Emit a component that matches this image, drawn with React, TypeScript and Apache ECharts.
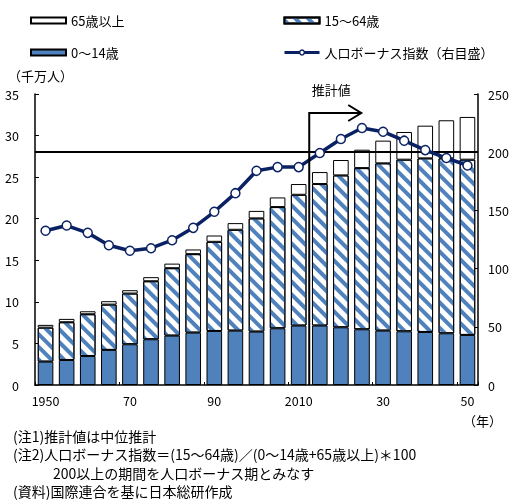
import React, { useEffect, useRef } from "react";
import * as echarts from "echarts";

const years = [1950, 1955, 1960, 1965, 1970, 1975, 1980, 1985, 1990, 1995, 2000, 2005, 2010, 2015, 2020, 2025, 2030, 2035, 2040, 2045, 2050];
const age0to14 = [2.81, 3.01, 3.49, 4.22, 4.9, 5.5, 5.94, 6.3, 6.5, 6.54, 6.42, 6.82, 7.15, 7.15, 6.94, 6.7, 6.54, 6.46, 6.38, 6.22, 6.02];
const age15to64 = [4.09, 4.54, 5.02, 5.45, 6.1, 6.98, 8.11, 9.44, 10.72, 12.13, 13.62, 14.58, 15.73, 17.02, 18.27, 19.39, 20.12, 20.64, 20.88, 21.04, 21.08];
const age65plus = [0.33, 0.4, 0.36, 0.41, 0.4, 0.49, 0.55, 0.56, 0.76, 0.8, 0.9, 1.16, 1.29, 1.44, 1.85, 2.21, 2.73, 3.33, 3.93, 4.58, 5.14];
const bonusIndex = [132.5, 137, 130.7, 120.1, 115.3, 117.5, 124.4, 135, 148.8, 164.8, 184, 187.2, 187.2, 199.3, 211.3, 220.8, 217.6, 209.9, 201.8, 195, 188.6];
const bonusThreshold = 200;
const leftTicks = { min: 0, max: 35, interval: 5 };
const rightTicks = { min: 0, max: 250, interval: 50 };
const fullYearLabels = ["1950", "2010"];
const estimateAfter = 2010;
const notes = [
  "(注1)推計値は中位推計",
  "(注2)人口ボーナス指数＝(15～64歳)／(0～14歳+65歳以上)＊100",
  "200以上の期間を人口ボーナス期とみなす",
  "(資料)国際連合を基に日本総研作成",
];

const FONT = "'Noto Sans CJK JP', 'Noto Sans', sans-serif";
const BLUE = "#4F81BD";
const NAVY = "#0A2163";

export default function App() {
  const ref = useRef<HTMLDivElement>(null);
  useEffect(() => {
    if (!ref.current) return;
    const chart = echarts.init(ref.current, null, { renderer: "svg" });
    const cats = years.map(String);
    const barBase = {
      type: "bar" as const,
      stack: "pop",
      barWidth: "74%",
      yAxisIndex: 0,
    };
    chart.setOption({
      animation: false,
      textStyle: { fontFamily: FONT },
      grid: { left: 35, right: 36, top: 94, bottom: 116 },
      legend: [
        {
          orient: "vertical",
          left: 25,
          top: 9,
          itemWidth: 35,
          itemHeight: 6,
          itemGap: 19,
          textStyle: { fontSize: 13, color: "#000", fontFamily: FONT },
          data: [
            { name: "65歳以上", icon: "rect" },
            { name: "0～14歳", icon: "rect" },
          ],
          selectedMode: false,
        },
        {
          orient: "vertical",
          left: 278,
          top: 9,
          itemWidth: 35,
          itemHeight: 6,
          itemGap: 19,
          textStyle: { fontSize: 13, color: "#000", fontFamily: FONT },
          data: [
            { name: "15～64歳", icon: "rect" },
            {
              name: "人口ボーナス指数（右目盛）",
              itemStyle: { color: "#fff", borderColor: NAVY, borderWidth: 1.5 },
              lineStyle: { color: NAVY, width: 3 },
            },
          ],
          selectedMode: false,
        },
      ],
      xAxis: {
        type: "category",
        data: cats,
        boundaryGap: true,
        axisLine: { lineStyle: { color: "#000", width: 1.5 } },
        axisTick: { show: true, inside: true, interval: 3, length: 3, lineStyle: { color: "#000" } },
        axisLabel: {
          interval: 3,
          margin: 9,
          fontSize: 12.5,
          color: "#000",
          formatter: (v: string) => (fullYearLabels.includes(v) ? v : v.slice(2)),
        },
      },
      yAxis: [
        {
          type: "value",
          ...leftTicks,
          splitLine: { show: false },
          axisLine: { show: true, lineStyle: { color: "#000", width: 1.5 } },
          axisTick: { show: true, inside: true, length: 4, lineStyle: { color: "#000" } },
          axisLabel: { margin: 16, fontSize: 12.5, color: "#000" },
        },
        {
          type: "value",
          ...rightTicks,
          splitLine: { show: false },
          axisLine: { show: true, lineStyle: { color: "#000", width: 1.5 } },
          axisTick: { show: true, inside: true, length: 4, lineStyle: { color: "#000" } },
          axisLabel: { margin: 10, fontSize: 12.5, color: "#000" },
        },
      ],
      series: [
        {
          ...barBase,
          name: "0～14歳",
          data: age0to14,
          itemStyle: { color: BLUE, borderColor: "#000", borderWidth: 1 },
        },
        {
          ...barBase,
          name: "15～64歳",
          data: age15to64,
          itemStyle: {
            color: "#fff",
            borderColor: "#000",
            borderWidth: 1,
            decal: {
              color: BLUE,
              symbol: "rect",
              symbolSize: 1,
              dashArrayX: [1, 0],
              dashArrayY: [3.5, 5],
              rotation: Math.PI / 4,
            },
          },
        },
        {
          ...barBase,
          name: "65歳以上",
          data: age65plus,
          itemStyle: { color: "#fff", borderColor: "#000", borderWidth: 1 },
        },
        {
          type: "line",
          name: "人口ボーナス指数（右目盛）",
          yAxisIndex: 1,
          data: bonusIndex,
          symbol: "circle",
          symbolSize: 9,
          lineStyle: { color: NAVY, width: 3.5 },
          itemStyle: { color: "#fff", borderColor: NAVY, borderWidth: 1.5 },
          z: 5,
          markLine: {
            silent: true,
            symbol: "none",
            label: { show: false },
            lineStyle: { color: "#000", width: 2, type: "solid" },
            data: [{ yAxis: bonusThreshold }],
          },
        },
      ],
    });

    const i = years.indexOf(estimateAfter);
    const x1 = chart.convertToPixel({ xAxisIndex: 0 }, cats[i]) as number;
    const x2 = chart.convertToPixel({ xAxisIndex: 0 }, cats[i + 1]) as number;
    const vx = (x1 + x2) / 2;
    const yBottom = chart.convertToPixel({ yAxisIndex: 0 }, 0) as number;
    const yTop = 113;
    const arrowEnd = vx + 52;
    chart.setOption({
      graphic: [
        {
          type: "polyline",
          z: 10,
          shape: { points: [[vx, yBottom], [vx, yTop], [arrowEnd, yTop]] },
          style: { stroke: "#000", lineWidth: 2, fill: "none" },
        },
        {
          type: "polyline",
          z: 10,
          shape: { points: [[arrowEnd - 13, yTop - 8], [arrowEnd, yTop], [arrowEnd - 13, yTop + 8]] },
          style: { stroke: "#000", lineWidth: 2, fill: "none" },
        },
        {
          type: "text",
          x: vx + 22,
          y: 89,
          style: { text: "推計値", fontSize: 13, fontFamily: FONT, fill: "#000", align: "center", verticalAlign: "middle" },
        },
        {
          type: "text",
          x: 8,
          y: 75,
          style: { text: "（千万人）", fontSize: 13, fontFamily: FONT, fill: "#000", align: "left", verticalAlign: "middle" },
        },
        {
          type: "text",
          x: 502,
          y: 420,
          style: { text: "（年）", fontSize: 13, fontFamily: FONT, fill: "#000", align: "right", verticalAlign: "middle" },
        },
        ...notes.map((t, k) => ({
          type: "text",
          x: k === 2 ? 53 : 13,
          y: 436 + k * 18.3,
          style: { text: t, fontSize: 14, fontFamily: FONT, fill: "#000", align: "left", verticalAlign: "middle" },
        })),
      ],
    });
    return () => chart.dispose();
  }, []);
  return <div ref={ref} style={{ position: "fixed", left: 0, top: 0, width: 514, height: 501 }} />;
}
